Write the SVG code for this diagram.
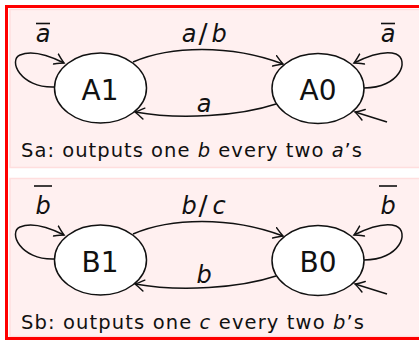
<svg xmlns="http://www.w3.org/2000/svg" width="419" height="340" viewBox="0 0 419 340">
  <defs>
    <marker id="arr" markerUnits="userSpaceOnUse" markerWidth="20" markerHeight="20" viewBox="-10 -10 20 20" refX="0" refY="0" orient="auto">
      <path d="M-9,-5.5 Q-3,-1.5 0,0 Q-3,1.5 -9,5.5" fill="none" stroke="#111" stroke-width="1.5" stroke-linecap="round"/>
    </marker>
  </defs>
  <style>
    .panel { fill: #fff0f0; stroke: #ffdede; stroke-width: 1.5; }
    .node ellipse { fill: #ffffff; stroke: #111; stroke-width: 1.5; }
    .node text { font-family: "DejaVu Sans", sans-serif; font-size: 28px; fill: #111; text-anchor: middle; }
    .edge { fill: none; stroke: #111; stroke-width: 1.5; marker-end: url(#arr); }
    .lbl { font-family: "DejaVu Sans", sans-serif; font-style: italic; font-size: 24px; fill: #111; text-anchor: middle; }
    .up { font-style: normal; font-size: 27px; }
    .bar { stroke: #111; stroke-width: 1.6; }
    .cap { font-family: "DejaVu Sans", sans-serif; font-size: 19.5px; fill: #111; }
    .it { font-style: italic; }
  </style>

  <rect x="0" y="0" width="419" height="340" fill="#ffffff"/>
  <rect class="panel" x="10" y="9.5" width="440" height="158"/>
  <rect class="panel" x="10" y="178.5" width="440" height="158"/>
  <rect x="6.5" y="6.5" width="460" height="332" fill="none" stroke="#ff0000" stroke-width="3"/>

  <g id="connectors">
    <!-- top panel -->
    <path class="edge" d="M54,87 C 20,88 8,60 20,55 C 32,50 48,55 64,63"/>
    <path class="edge" d="M133,62 C 170,46 230,44 283,64"/>
    <path class="edge" d="M276,104 C 240,116 180,120 135,112"/>
    <path class="edge" d="M364,88 C 400,88 410,60 396,54 C 384,50 368,56 354,63"/>
    <path class="edge" d="M387,122 L355,112"/>
    <!-- bottom panel -->
    <path class="edge" d="M54,259 C 20,260 8,232 20,227 C 32,222 48,227 64,235"/>
    <path class="edge" d="M133,234 C 170,218 230,216 283,236"/>
    <path class="edge" d="M276,276 C 240,288 180,292 135,284"/>
    <path class="edge" d="M364,260 C 400,260 410,232 396,226 C 384,222 368,228 354,235"/>
    <path class="edge" d="M387,294 L355,284"/>
  </g>

  <g id="A1" class="node"><ellipse cx="100.5" cy="88" rx="46" ry="35"/><text x="100" y="100">A1</text></g>
  <g id="A0" class="node"><ellipse cx="318" cy="88.5" rx="46" ry="35"/><text x="318" y="100">A0</text></g>
  <g id="B1" class="node"><ellipse cx="100.5" cy="260" rx="46" ry="35"/><text x="100" y="272">B1</text></g>
  <g id="B0" class="node"><ellipse cx="318" cy="260.5" rx="46" ry="35"/><text x="318" y="272">B0</text></g>

  <g id="labels">
    <text class="lbl" x="43" y="42">a</text><line class="bar" x1="36" y1="23.5" x2="50" y2="23.5"/>
    <text class="lbl" x="388" y="42">a</text><line class="bar" x1="381" y1="23.5" x2="395" y2="23.5"/>
    <text class="lbl" x="189" y="42">a</text><text class="lbl up" x="203" y="43">/</text><text class="lbl" x="219" y="42">b</text>
    <text class="lbl" x="204" y="112">a</text>

    <text class="lbl" x="43" y="214">b</text><line class="bar" x1="34" y1="186" x2="52" y2="186"/>
    <text class="lbl" x="388" y="214">b</text><line class="bar" x1="379" y1="186" x2="397" y2="186"/>
    <text class="lbl" x="189" y="214">b</text><text class="lbl up" x="203" y="215">/</text><text class="lbl" x="219" y="214">c</text>
    <text class="lbl" x="204" y="283">b</text>

    <text class="cap" x="21" y="157" textLength="341" lengthAdjust="spacing">Sa: outputs one <tspan class="it">b</tspan> every two <tspan class="it">a</tspan>’s</text>
    <text class="cap" x="21" y="329" textLength="343" lengthAdjust="spacing">Sb: outputs one <tspan class="it">c</tspan> every two <tspan class="it">b</tspan>’s</text>
  </g>
</svg>
